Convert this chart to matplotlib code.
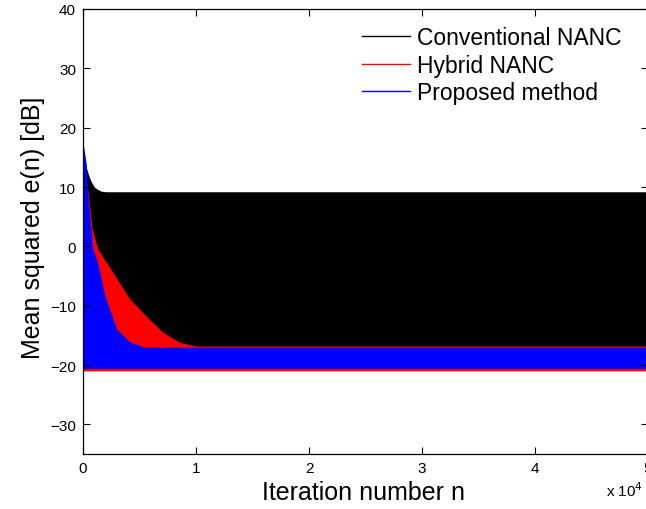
import matplotlib
matplotlib.use("Agg")
import matplotlib.pyplot as plt
from matplotlib.lines import Line2D

plt.rcParams['font.family'] = ['Liberation Sans', 'DejaVu Sans']

# envelopes of the three noisy error curves
N_BLACK = [0, 150, 300, 500, 700, 1000, 1300, 1600, 2000, 50000]
BLACK_TOP = [15.5, 14.5, 13.2, 12.0, 11.0, 10.0, 9.6, 9.3, 9.2, 9.2]
BLACK_BOTTOM = -20.8

N_RED = [0, 200, 500, 800, 1330, 2650, 4160, 5660, 7080, 8580, 10000, 50000]
RED_TOP = [17.0, 12.5, 8.5, 3.0, -0.5, -4.4, -8.9, -11.9, -14.5, -16.2, -16.8, -16.8]
RED_BOTTOM = -21.0

N_BLUE = [0, 290, 440, 700, 880, 1300, 1950, 3000, 4200, 5500, 50000]
BLUE_TOP = [17.5, 13.9, 8.5, 2.9, -0.5, -2.7, -8.4, -14.0, -16.2, -17.0, -17.0]
BLUE_BOTTOM = -20.6

LABELS = ['Conventional NANC', 'Hybrid NANC', 'Proposed method']
COLORS = ['black', 'red', 'blue']

X_TICKS = [0, 10000, 20000, 30000, 40000, 50000]
X_TICK_LABELS = ['0', '1', '2', '3', '4', '5']
Y_TICKS = [-30, -20, -10, 0, 10, 20, 30, 40]

fig = plt.figure(figsize=(6.46, 5.10), dpi=100)
ax = fig.add_axes([83 / 646, 1 - 455 / 510, 565 / 646, 445 / 510])

ax.fill_between(N_BLACK, BLACK_BOTTOM, BLACK_TOP, color='black', lw=0)
ax.fill_between(N_RED, RED_BOTTOM, RED_TOP, color='red', lw=0)
ax.fill_between(N_BLUE, BLUE_BOTTOM, BLUE_TOP, color='blue', lw=0)

ax.set_xlim(0, 50000)
ax.set_ylim(-35, 40)
ax.set_xticks(X_TICKS)
ax.set_xticklabels(X_TICK_LABELS)
ax.set_yticks(Y_TICKS)
ax.tick_params(direction='in', length=5, width=0.8, labelsize=11,
               top=True, right=True, pad=5)
for sp in ax.spines.values():
    sp.set_linewidth(0.9)

ax.set_xlabel('Iteration number n', fontsize=18, va='center')
ax.xaxis.set_label_coords(0.497, -0.0854)
ax.set_ylabel('Mean squared e(n) [dB]', fontsize=18, va='center')
ax.yaxis.set_label_coords(-0.0885, 0.51)

fig.text(606 / 646, 1 - 497 / 510, r'x 10$^{4}$', fontsize=11,
         ha='left', va='baseline')

handles = [Line2D([0], [0], color=c, lw=1.0) for c in COLORS]
fig.legend(handles, LABELS, loc='upper left',
           bbox_to_anchor=(362 / 646, 1 - 27 / 510), frameon=False,
           fontsize=16.5, handlelength=2.1, handletextpad=0.28,
           labelspacing=0.2, borderpad=0, borderaxespad=0)

fig.savefig('out.png', dpi=100)
